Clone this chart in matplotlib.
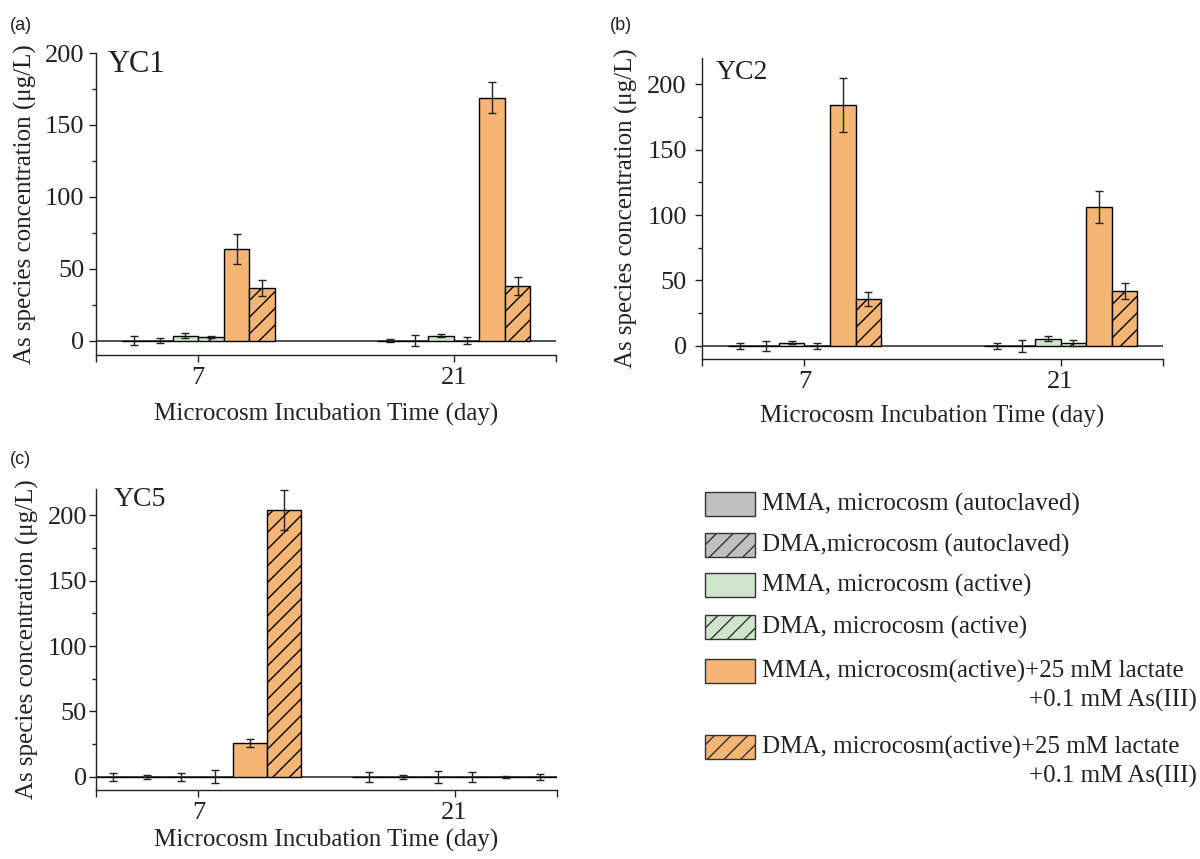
import numpy as np
import matplotlib
matplotlib.use("Agg")
import matplotlib.pyplot as plt
from matplotlib.patches import Rectangle
from matplotlib.ticker import MultipleLocator, FixedLocator

plt.rcParams['font.family'] = ['Liberation Serif', 'DejaVu Serif']
plt.rcParams['hatch.linewidth'] = 1.0

W, H = 1200, 859

# ---------------- data ----------------
days = ['7', '21']
series = ['MMA, microcosm (autoclaved)',
          'DMA,microcosm (autoclaved)',
          'MMA, microcosm (active)',
          'DMA, microcosm (active)',
          'MMA, microcosm(active)+25 mM lactate\n+0.1 mM As(III)',
          'DMA, microcosm(active)+25 mM lactate\n+0.1 mM As(III)']
colors = ['#c0c0c0', '#c0c0c0', '#cfe6cc', '#cfe6cc', '#f5b574', '#f5b574']
hatches = [None, '//', None, '//', None, '//']

# rows = series, columns = days (7, 21)
yc1_mean = [[0, 0], [0, 0], [3.5, 3.5], [2.5, 0], [63.5, 169], [36.5, 38]]
yc1_err = [[3, 1], [2, 4], [1.5, 1], [1, 2.5], [10.5, 10.5], [5.5, 6.5]]
yc2_mean = [[0, 0], [0, 0], [2.5, 5.5], [0, 2.3], [184, 106], [36, 42]]
yc2_err = [[2, 2], [4, 4.5], [1, 2], [2.5, 2], [20.5, 12], [5.5, 6]]
yc5_mean = [[0, 0], [0, 0], [0, 0], [0, 0], [26, 0], [204, 0]]
yc5_err = [[3, 4], [1.5, 1.5], [3, 4.5], [5, 4], [3, 0.6], [15, 2]]

panels = [
    dict(tag='(a)', name='YC1', mean=yc1_mean, err=yc1_err, ylim=(-10, 200),
         box=(96, 53, 556, 355), width=0.1, tagpos=(10, 25), namepos=(108, 72), namesize=22,
         ylabx=25, tickpad=3.5, xlabpad=10),
    dict(tag='(b)', name='YC2', mean=yc2_mean, err=yc2_err, ylim=(-10, 220),
         box=(702, 58, 1163, 359), width=0.1, tagpos=(610, 25), namepos=(716, 79), namesize=20,
         ylabx=626, tickpad=6, xlabpad=9),
    dict(tag='(c)', name='YC5', mean=yc5_mean, err=yc5_err, ylim=(-10, 220),
         box=(96, 489, 557, 790), width=0.133, tagpos=(10, 460), namepos=(114, 506), namesize=20,
         ylabx=27, tickpad=1.5, xlabpad=4),
]

fig = plt.figure(figsize=(W / 100, H / 100), dpi=100)

for p in panels:
    l, t, r, b = p['box']
    ax = fig.add_axes([l / W, 1 - b / H, (r - l) / W, (b - t) / H])
    x = np.arange(len(days))
    w = p['width']
    n = len(series)
    for i in range(n):
        off = (i - (n - 1) / 2) * w
        ax.bar(x + off, p['mean'][i], width=w, color=colors[i],
               edgecolor='black', linewidth=1.0, hatch=hatches[i], zorder=2)
        ax.errorbar(x + off, p['mean'][i], yerr=p['err'][i], fmt='none',
                    ecolor='#222222', elinewidth=1.0, capsize=3, capthick=1.0, zorder=3)
    ax.axhline(0, color='#333333', linewidth=1.2, zorder=1)
    ax.set_xlim(-0.4, 1.4)
    ax.set_ylim(*p['ylim'])
    ax.set_xticks(x)
    ax.set_xticklabels(days)
    ax.xaxis.set_minor_locator(FixedLocator([-0.4, 1.4]))
    ax.yaxis.set_major_locator(MultipleLocator(50))
    ax.yaxis.set_minor_locator(MultipleLocator(25))
    ax.tick_params(axis='both', which='major', direction='out', length=5, width=1,
                   labelsize=19, colors='#222222', labelcolor='#222222')
    ax.tick_params(axis='y', which='major', pad=p['tickpad'])
    ax.tick_params(axis='both', which='minor', direction='out', length=3, width=1,
                   colors='#222222')
    ax.tick_params(axis='x', which='minor', length=5)
    for s in ['top', 'right']:
        ax.spines[s].set_visible(False)
    for s in ['left', 'bottom']:
        ax.spines[s].set_color('#222222')
        ax.spines[s].set_linewidth(1.0)
    ax.set_xlabel('Microcosm Incubation Time (day)', fontsize=18, color='#222222',
                  labelpad=p['xlabpad'])
    ax.set_ylabel('As species concentration (μg/L)', fontsize=18, color='#222222')
    ax.yaxis.set_label_coords((p['ylabx'] - l) / (r - l), 0.5)
    ax.yaxis.label.set_va('center')
    fig.text(p['tagpos'][0] / W, 1 - p['tagpos'][1] / H, p['tag'], fontsize=13,
             family=['Liberation Sans', 'DejaVu Sans'], va='center', ha='left', color='#222222')
    fig.text(p['namepos'][0] / W, 1 - p['namepos'][1] / H, p['name'], fontsize=p['namesize'],
             va='baseline', ha='left', color='#222222')

# ---------------- legend (manual) ----------------
rows_y = [504, 545, 585, 627, 671, 747]
for i, lab in enumerate(series):
    yc = rows_y[i]
    rect = Rectangle((705 / W, 1 - (yc + 12) / H), 50 / W, 24 / H, transform=fig.transFigure,
                     facecolor=colors[i], edgecolor='#333333', linewidth=1.0,
                     hatch=hatches[i])
    fig.add_artist(rect)
    lines = lab.split('\n')
    fig.text(762 / W, 1 - yc / H, lines[0], fontsize=18, va='center', ha='left', color='#222222')
    if len(lines) > 1:
        fig.text(1197 / W, 1 - (yc + 29) / H, lines[1], fontsize=18, va='center', ha='right',
                 color='#222222')

fig.savefig('out.png', dpi=100, facecolor='white')
